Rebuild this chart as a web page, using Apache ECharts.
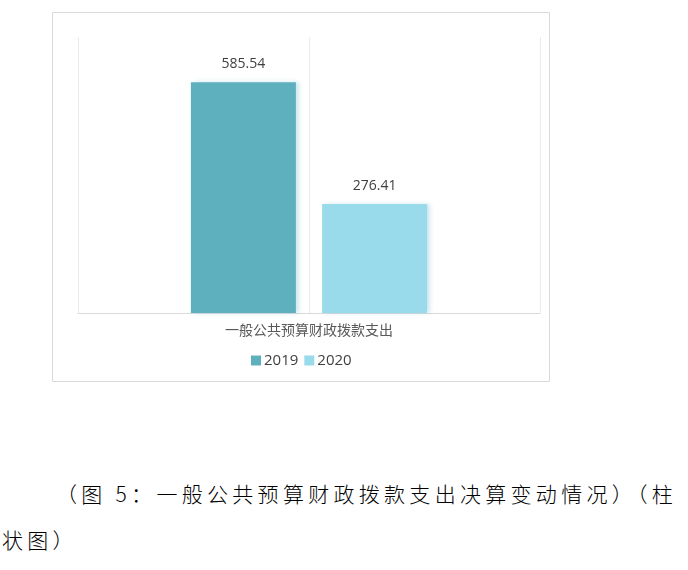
<!DOCTYPE html>
<html>
<head>
<meta charset="utf-8">
<script src="https://cdn.jsdelivr.net/npm/echarts@6/dist/echarts.min.js"></script>
<style>
  html, body { margin: 0; padding: 0; background: #fff; }
  #chart { position: absolute; left: 0; top: 0; width: 688px; height: 400px; }
  .caption {
    position: absolute; left: 0;
    font-family: "Noto Sans CJK SC", sans-serif;
    font-size: 21px; font-weight: 300; letter-spacing: 4.3px; color: #000;
    line-height: 46px; white-space: nowrap;
  }
</style>
</head>
<body>
<div id="chart"></div>
<div class="caption" style="top:470px; left:56px;">（图 5：一般公共预算财政拨款支出决算变动情况）（柱</div>
<div class="caption" style="top:516px; left:2px;">状图）</div>
<script>
  // data
  const categories = ["一般公共预算财政拨款支出"];
  const seriesNames = ["2019", "2020"];
  const values2019 = [585.54];
  const values2020 = [276.41];
  const colors = ["#5fb0bf", "#99dbea"];

  const chart = echarts.init(document.getElementById("chart"));
  const font = "'Open Sans', 'Noto Sans CJK SC', sans-serif";

  const barSeries = (name, data, color) => ({
    name: name,
    type: "bar",
    data: data,
    barWidth: 105,
    barGap: "25%",
    itemStyle: {
      color: color,
      shadowColor: "rgba(120,190,210,0.35)",
      shadowBlur: 4,
      shadowOffsetX: 3
    },
    label: {
      show: true,
      position: "top",
      distance: 11,
      color: "#404040",
      fontSize: 14,
      fontFamily: font,
      formatter: p => p.value.toFixed(2)
    }
  });

  chart.setOption({
    animation: false,
    textStyle: { fontFamily: font },
    graphic: [{
      type: "rect",
      shape: { x: 52.5, y: 12.5, width: 497, height: 369 },
      style: { fill: "none", stroke: "#d9d9d9", lineWidth: 1 },
      silent: true
    }],
    grid: { left: 78, right: 148, top: 37, height: 276 },
    legend: {
      data: seriesNames,
      top: 348,
      left: 246,
      itemWidth: 10,
      itemHeight: 10,
      itemGap: 6,
      icon: "rect",
      textStyle: { color: "#404040", fontSize: 15, fontFamily: font, padding: [0, 0, 0, -2] }
    },
    xAxis: [{
      type: "category",
      data: categories,
      axisLine: { lineStyle: { color: "#d9d9d9" } },
      axisTick: { show: false },
      axisLabel: { color: "#595959", fontSize: 14, margin: 11 },
      splitLine: { show: false }
    }, {
      type: "value",
      min: 0,
      max: 2,
      interval: 1,
      position: "bottom",
      axisLine: { show: false },
      axisTick: { show: false },
      axisLabel: { show: false },
      splitLine: { show: true, lineStyle: { color: "#ebebeb" } }
    }],
    yAxis: {
      type: "value",
      min: 0,
      max: 700,
      show: false
    },
    series: [
      barSeries(seriesNames[0], values2019, colors[0]),
      barSeries(seriesNames[1], values2020, colors[1])
    ]
  });
</script>
</body>
</html>
